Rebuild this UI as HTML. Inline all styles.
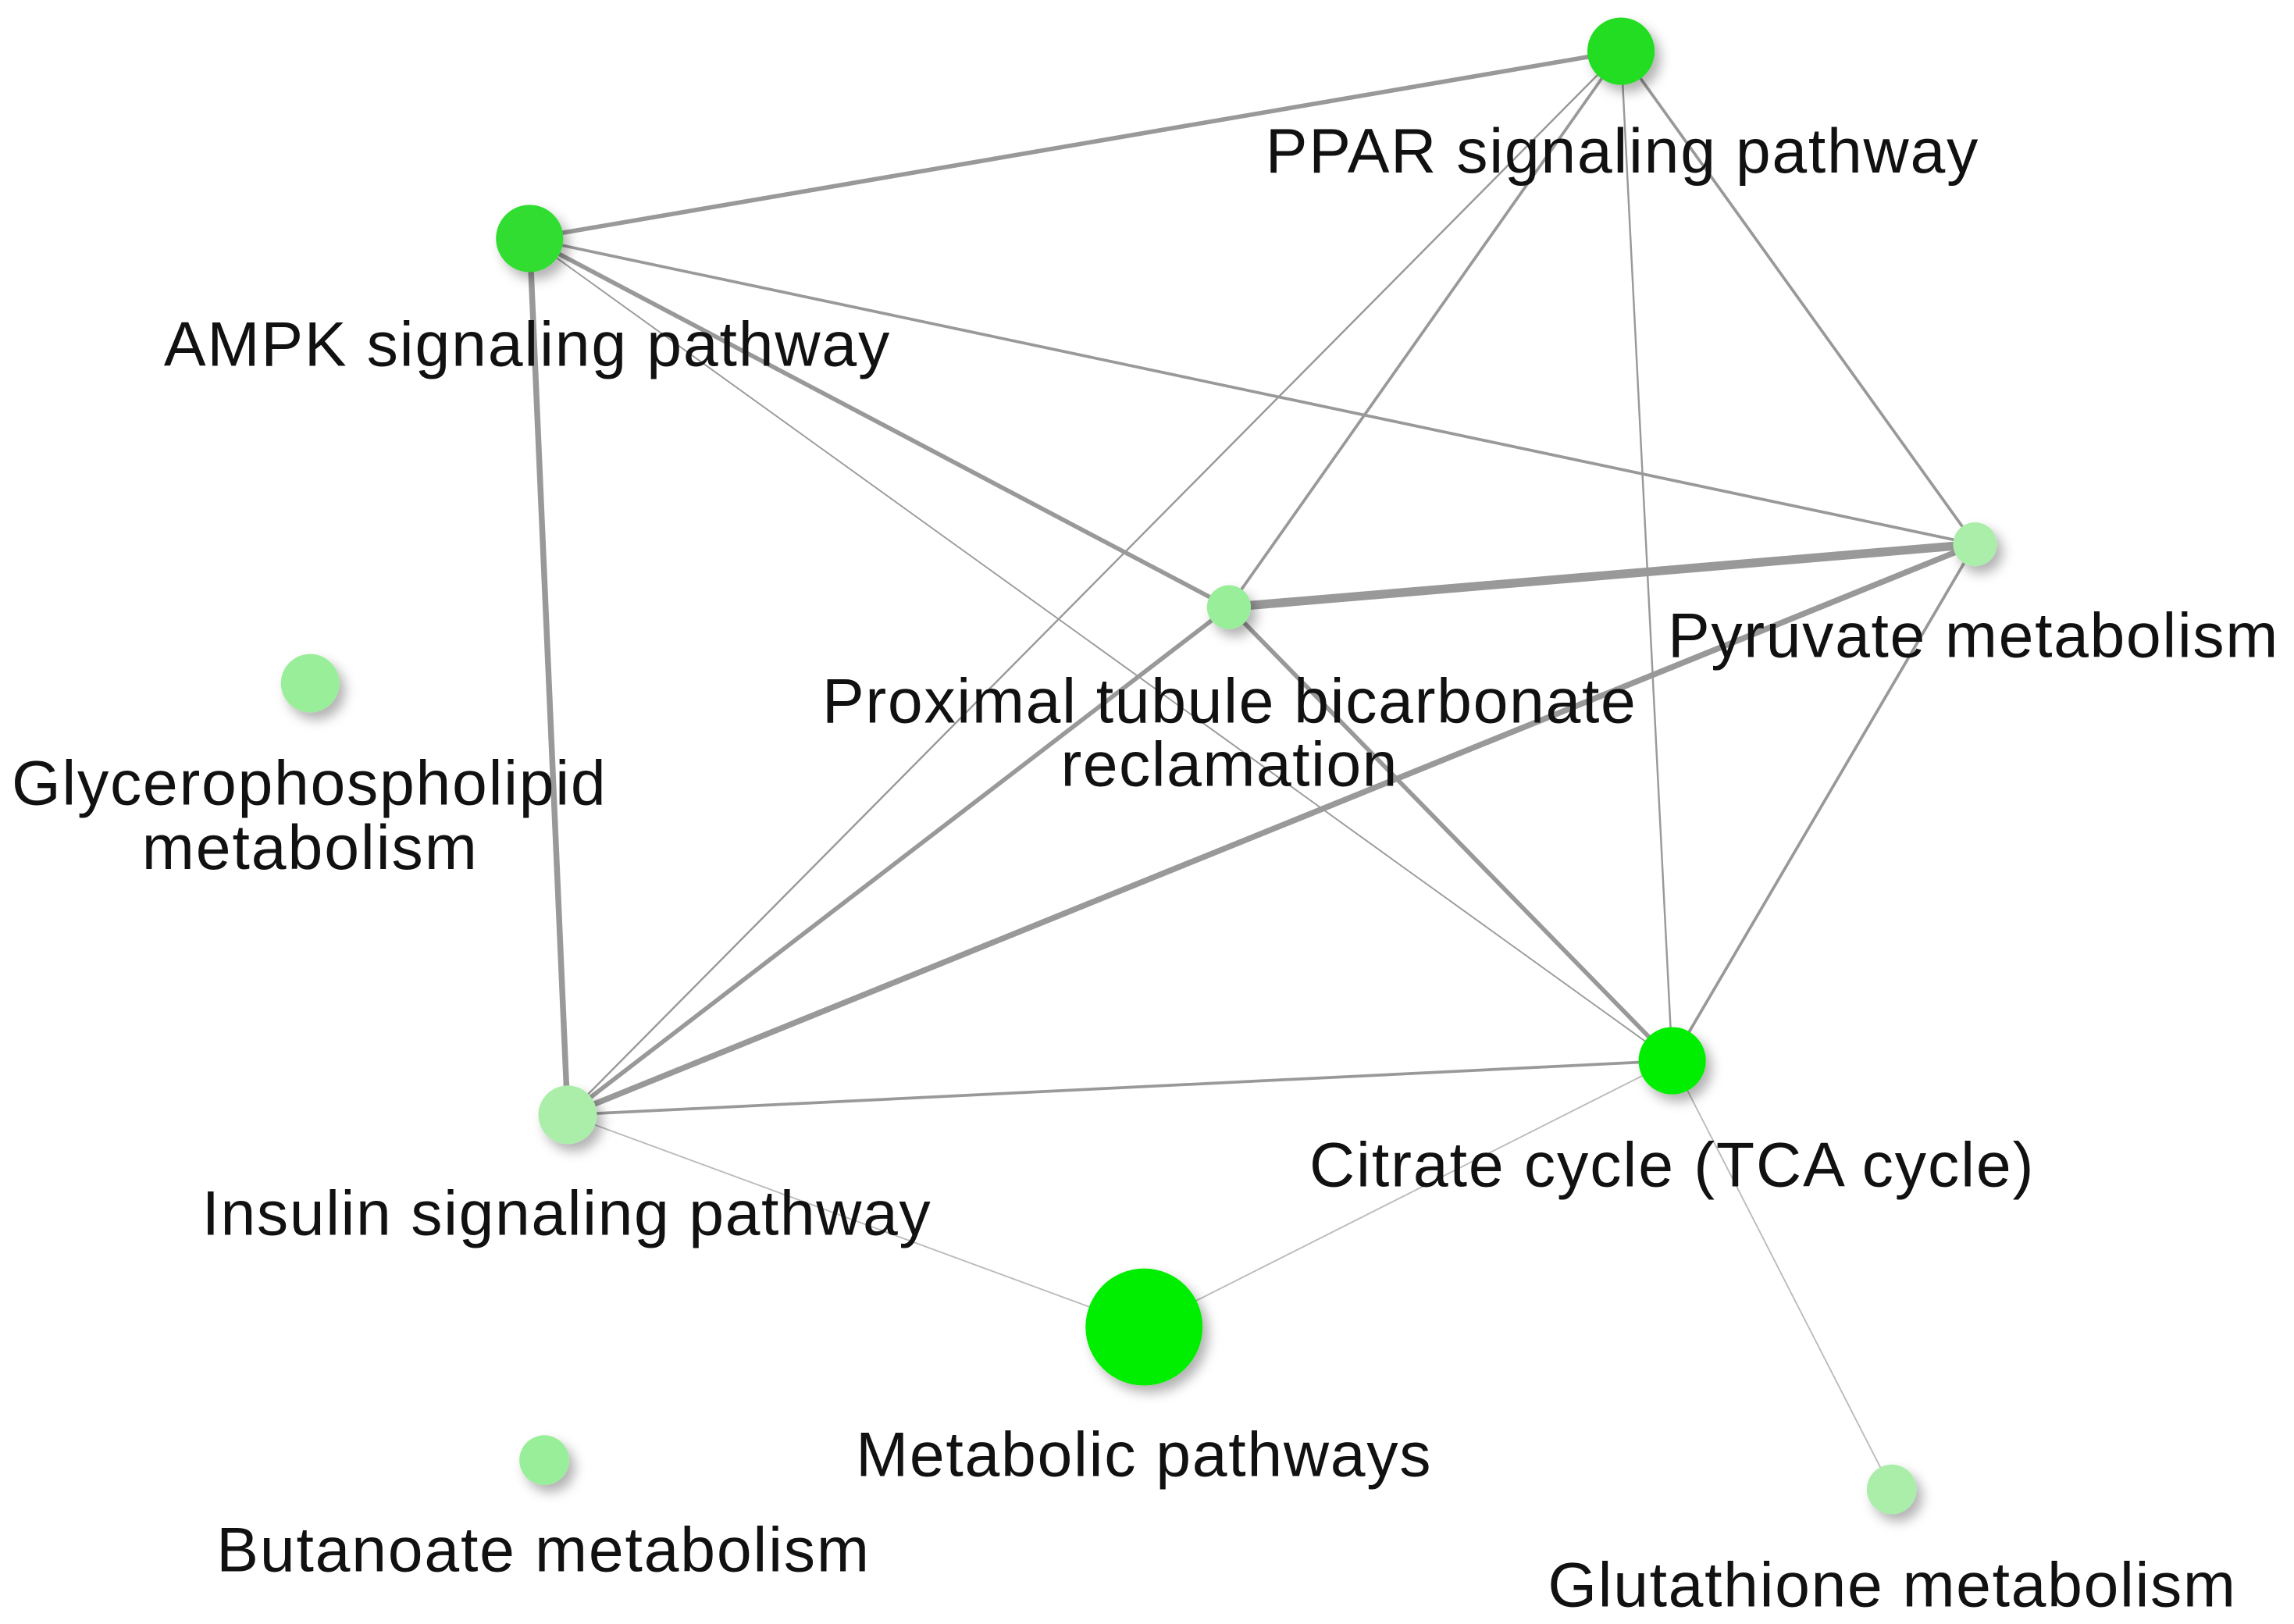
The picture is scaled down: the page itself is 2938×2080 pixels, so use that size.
<!DOCTYPE html>
<html><head><meta charset="utf-8"><style>
html,body{margin:0;padding:0;background:#fff;}
svg{display:block;}
text{font-family:"Liberation Sans",Arial,sans-serif;font-size:43px;fill:#111;}
</style></head><body>
<svg width="2938" height="2080" viewBox="0 0 1568 1110" preserveAspectRatio="none" xmlns="http://www.w3.org/2000/svg">
<defs>
<filter id="sh" x="-50%" y="-50%" width="200%" height="200%">
<feDropShadow dx="4" dy="5" stdDeviation="4" flood-color="#000" flood-opacity="0.3"/>
</filter>
</defs>
<g stroke="#999" fill="none" stroke-linecap="round">
<line x1="362" y1="163" x2="1108" y2="35" stroke-width="3"/>
<line x1="362" y1="163" x2="1350" y2="372" stroke-width="2"/>
<line x1="362" y1="163" x2="840" y2="415" stroke-width="3"/>
<line x1="362" y1="163" x2="1143" y2="725" stroke-width="1"/>
<line x1="362" y1="163" x2="388" y2="762" stroke-width="4"/>
<line x1="1108" y1="35" x2="840" y2="415" stroke-width="2"/>
<line x1="1108" y1="35" x2="388" y2="762" stroke-width="1.3"/>
<line x1="1108" y1="35" x2="1143" y2="725" stroke-width="1.3"/>
<line x1="1108" y1="35" x2="1350" y2="372" stroke-width="2"/>
<line x1="840" y1="415" x2="1350" y2="372" stroke-width="6"/>
<line x1="1350" y1="372" x2="388" y2="762" stroke-width="4"/>
<line x1="1350" y1="372" x2="1143" y2="725" stroke-width="2"/>
<line x1="840" y1="415" x2="388" y2="762" stroke-width="3"/>
<line x1="840" y1="415" x2="1143" y2="725" stroke-width="3"/>
<line x1="388" y1="762" x2="1143" y2="725" stroke-width="2"/>
<line x1="388" y1="762" x2="782" y2="907" stroke-width="1" stroke="#bbb"/>
<line x1="782" y1="907" x2="1143" y2="725" stroke-width="1" stroke="#bbb"/>
<line x1="1143" y1="725" x2="1293" y2="1018" stroke-width="1" stroke="#bbb"/>
</g>
<g filter="url(#sh)">
<circle cx="1108" cy="35" r="23" fill="#22dd22"/>
<circle cx="362" cy="163" r="23" fill="#33dd33"/>
<circle cx="1350" cy="372" r="15" fill="#aaeeaa"/>
<circle cx="840" cy="415" r="15" fill="#99ee99"/>
<circle cx="212" cy="467" r="20" fill="#99ee99"/>
<circle cx="1143" cy="725" r="23" fill="#00ee00"/>
<circle cx="388" cy="762" r="20" fill="#aaeeaa"/>
<circle cx="782" cy="907" r="40" fill="#00ee00"/>
<circle cx="372" cy="998" r="17" fill="#99ee99"/>
<circle cx="1293" cy="1018" r="17" fill="#aaeeaa"/>
</g>
<text x="865" y="118" textLength="487">PPAR signaling pathway</text>
<text x="112" y="250" textLength="496">AMPK signaling pathway</text>
<text x="1140" y="449" textLength="417">Pyruvate metabolism</text>
<text x="562" y="494" textLength="556">Proximal tubule bicarbonate</text>
<text x="725" y="537" textLength="230">reclamation</text>
<text x="8" y="550" textLength="406">Glycerophospholipid</text>
<text x="97" y="594" textLength="229">metabolism</text>
<text x="895" y="811" textLength="495">Citrate cycle (TCA cycle)</text>
<text x="138" y="844" textLength="498">Insulin signaling pathway</text>
<text x="585" y="1009" textLength="393">Metabolic pathways</text>
<text x="148" y="1074" textLength="446">Butanoate metabolism</text>
<text x="1058" y="1098" textLength="470">Glutathione metabolism</text>
</svg>
</body></html>
